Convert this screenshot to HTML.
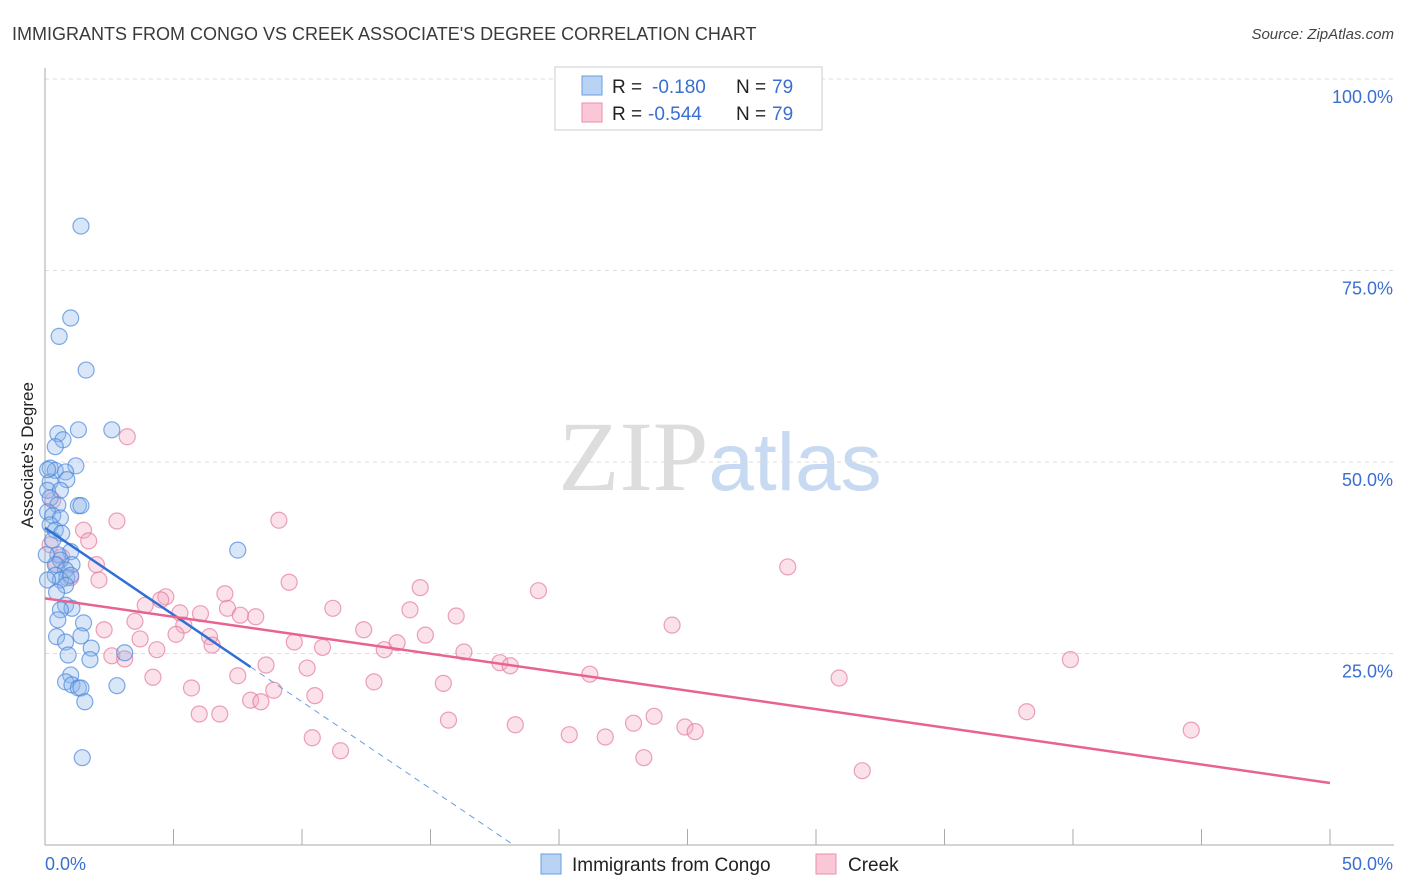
<!DOCTYPE html>
<html><head><meta charset="utf-8">
<style>
body{margin:0;background:#fff;font-family:"Liberation Sans",sans-serif;}
svg{display:block}
</style></head>
<body>
<svg id="chart" width="1406" height="892" xmlns="http://www.w3.org/2000/svg">
<text x="12" y="40" font-size="18" fill="#3a3a3a">IMMIGRANTS FROM CONGO VS CREEK ASSOCIATE'S DEGREE CORRELATION CHART</text>
<text x="1394" y="39" font-size="15" fill="#444" text-anchor="end" font-style="italic">Source: ZipAtlas.com</text>
<text x="720" y="490" font-size="100" text-anchor="middle"><tspan fill="#ddd" font-family="Liberation Serif">ZIP</tspan><tspan fill="#c8daf2" font-size="82">atlas</tspan></text>
<text transform="translate(33,455) rotate(-90)" font-size="17" fill="#222" text-anchor="middle">Associate's Degree</text>
<g id="grid"></g><g id="pts"></g><g id="lines"></g>
<g>
<rect x="555" y="67" width="267" height="63" fill="#fff" stroke="#ccc"/>
<rect x="582" y="76" width="20" height="19" fill="#b9d3f5" stroke="#6a9ee0"/>
<rect x="582" y="103" width="20" height="19" fill="#f9c7d6" stroke="#ea8fab"/>
<text x="612" y="93" font-size="19" fill="#222">R =</text>
<text x="652" y="93" font-size="19" fill="#3a6fd0">-0.180</text>
<text x="736" y="93" font-size="19" fill="#222">N =</text>
<text x="772" y="93" font-size="19" fill="#3a6fd0">79</text>
<text x="612" y="120" font-size="19" fill="#222">R =</text>
<text x="648" y="120" font-size="19" fill="#3a6fd0">-0.544</text>
<text x="736" y="120" font-size="19" fill="#222">N =</text>
<text x="772" y="120" font-size="19" fill="#3a6fd0">79</text>
</g>
<g>
<rect x="541" y="854" width="20" height="20" fill="#b9d3f5" stroke="#6a9ee0"/>
<text x="572" y="871" font-size="19" fill="#222">Immigrants from Congo</text>
<rect x="816" y="854" width="20" height="20" fill="#f9c7d6" stroke="#ea8fab"/>
<text x="848" y="871" font-size="19" fill="#222">Creek</text>
</g>
</svg>
<script>
const blueX=[1.4,1.0,0.55,1.6,2.6,1.3,0.5,0.7,0.4,1.2,0.2,0.4,0.8,0.85,0.2,0.1,0.6,0.2,1.3,1.4,0.5,0.1,0.3,0.6,0.2,0.4,0.65,0.3,7.5,1.0,0.5,0.6,0.4,1.05,0.8,0.4,0.85,0.6,1.0,0.8,0.45,0.8,1.05,0.6,0.5,1.5,1.4,0.45,0.8,1.8,0.9,3.1,1.75,1.0,0.8,1.05,1.3,1.4,2.8,1.55,1.45,0.1,0.05,0.1];
const blueY=[80.8,68.8,66.4,62.0,54.2,54.2,53.7,52.9,52.0,49.5,49.2,48.9,48.7,47.7,47.4,46.3,46.3,45.3,44.3,44.3,44.4,43.5,43.0,42.7,41.8,41.1,40.7,39.8,38.5,38.3,37.9,37.2,36.6,36.6,35.9,35.2,34.9,34.6,35.2,33.9,33.0,31.3,30.9,30.7,29.4,29.0,27.3,27.2,26.5,25.7,24.8,25.1,24.2,22.2,21.3,20.9,20.5,20.5,20.8,18.7,11.4,49.0,37.9,34.6];
const pinkX=[3.2,2.8,9.1,1.5,1.7,0.2,0.65,2.0,28.9,1.0,2.1,9.5,14.6,19.2,7.0,4.7,4.5,3.9,7.1,11.2,14.2,5.25,6.05,7.6,8.2,16.0,3.5,5.4,24.4,2.3,12.4,5.1,14.8,6.4,3.7,9.7,13.7,6.5,10.8,4.35,13.2,16.3,2.6,3.1,39.9,8.6,10.2,17.7,18.1,21.2,4.2,7.5,30.9,12.8,15.5,5.7,8.9,10.5,8.0,8.4,6.0,6.8,38.2,15.7,23.7,18.3,22.9,24.9,25.3,44.6,20.4,21.8,10.4,11.5,23.3,31.8,0.45,0.3];
const pinkY=[53.3,42.3,42.4,41.1,39.7,39.2,37.6,36.6,36.3,34.9,34.6,34.3,33.6,33.2,32.8,32.4,32.0,31.3,30.9,30.9,30.7,30.3,30.2,30.0,29.8,29.9,29.2,28.7,28.7,28.1,28.1,27.5,27.4,27.2,26.9,26.5,26.4,26.1,25.8,25.5,25.5,25.2,24.7,24.3,24.2,23.5,23.1,23.8,23.4,22.3,21.9,22.1,21.8,21.3,21.1,20.5,20.2,19.5,18.9,18.7,17.1,17.1,17.4,16.3,16.8,15.7,15.9,15.4,14.8,15.0,14.4,14.1,14.0,12.3,11.4,9.7,36.6,45.0];
const blueTrend=[41.4,-2.27];
const pinkTrend=[32.2,-0.482];
const yTicks=[100,75,50,25];
const yTickLabels=["100.0%","75.0%","50.0%","25.0%"];
const xTickLabels=["0.0%","50.0%"];
const NS="http://www.w3.org/2000/svg";
const sx=v=>45+v/50*1285, sy=v=>845-v/100*766;
function mk(tag,attrs,parent){const e=document.createElementNS(NS,tag);for(const k in attrs)e.setAttribute(k,attrs[k]);parent.appendChild(e);return e;}
const grid=document.getElementById('grid'),pts=document.getElementById('pts'),lines=document.getElementById('lines');
yTicks.forEach((t,i)=>{
 const l=mk('line',{x1:45,x2:1394,y1:sy(t),y2:sy(t),stroke:'#ddd','stroke-dasharray':'4,4'},grid);
 
 
 const tx=mk('text',{x:1393,y:sy(t)+24,'font-size':18,fill:'#3a6fd0','text-anchor':'end'},grid);
 tx.textContent=yTickLabels[i];
 
 
});
const ax=mk('line',{x1:45,x2:45,y1:68,y2:845,stroke:'#aaa'},grid);


const axx=mk('line',{x1:45,x2:1394,y1:845,y2:845,stroke:'#aaa'},grid);


for(let v=5;v<=50;v+=5){const t=mk('line',{x1:sx(v),x2:sx(v),y1:829,y2:845,stroke:'#aaa'},grid);
 
 }
[[0,'start',45],[50,'end',1393]].forEach((d,i)=>{const t=mk('text',{x:d[2],y:870,'font-size':18,fill:'#3a6fd0','text-anchor':d[1]},grid);t.textContent=xTickLabels[i];
 
 });
function dots(X,Y,fill,stroke,name){X.forEach((x,i)=>{const c=mk('circle',{cx:sx(x),cy:sy(Y[i]),r:8,fill:fill,'fill-opacity':0.35,stroke:stroke,'stroke-opacity':0.7,'stroke-width':1.2},pts);
 
 });}
dots(pinkX,pinkY,'#f4a8c0','#e47b9c','creek-point');
dots(blueX,blueY,'#90b8ec','#4a88dc','congo-point');
function f(tr,x){return tr[0]+tr[1]*x;}
const bEnd=8, bZero=-blueTrend[0]/blueTrend[1];
const bl=mk('line',{x1:sx(0),y1:sy(f(blueTrend,0)),x2:sx(bEnd),y2:sy(f(blueTrend,bEnd)),stroke:'#2f6fd6','stroke-width':2.5},lines);


const bd=mk('line',{x1:sx(bEnd),y1:sy(f(blueTrend,bEnd)),x2:sx(bZero),y2:sy(0),stroke:'#6a9ee0','stroke-width':1,'stroke-dasharray':'6,5'},lines);


const pl=mk('line',{x1:sx(0),y1:sy(f(pinkTrend,0)),x2:sx(50),y2:sy(f(pinkTrend,50)),stroke:'#e8638f','stroke-width':2.5},lines);


</script>
</body></html>
